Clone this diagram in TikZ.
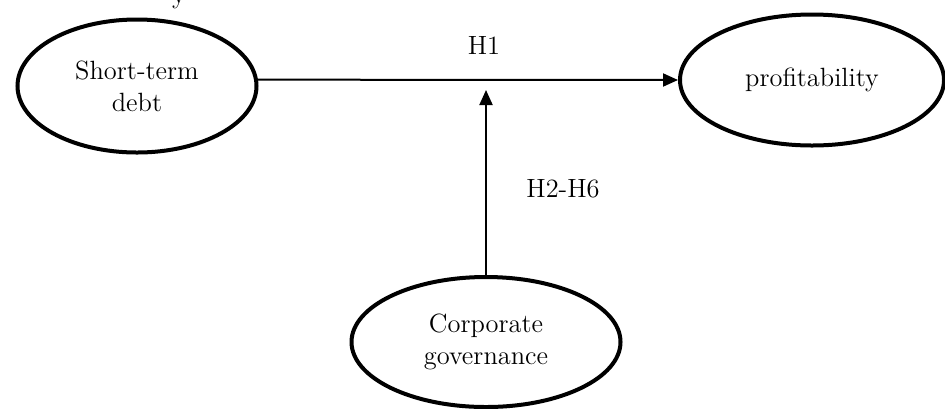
\documentclass[tikz,border=0pt]{standalone}
\usepackage{tikz}
\usetikzlibrary{shapes,arrows.meta,positioning}

\begin{document}
\begin{tikzpicture}[x=0.5pt,y=-0.5pt,
  var/.style={ellipse,draw,line width=2pt,inner sep=0pt,align=center,
    font=\fontsize{13.2}{16}\selectfont},
  hyp/.style={font=\fontsize{13.2}{15}\selectfont},
  link/.style={line width=1pt,-{Triangle[length=7.5pt,width=6.5pt]}}]
\useasboundingbox (0,0) rectangle (945,408);

\node[hyp,anchor=base] (cut) at (179,3) {y};

\node[var,minimum width=119.5pt,minimum height=66.5pt] (debt) at (137,86) {Short-term\\debt};
\node[var,minimum width=132pt,minimum height=65.5pt] (prof) at (812,80) {profitability};
\node[var,minimum width=134.5pt,minimum height=65pt] (gov) at (486,342) {Corporate\\governance};

\coordinate (join) at (486,90);

\draw[link] (debt.3) -- (prof.west);
\draw[link] (gov.north) -- (join);

\node[hyp] (h1) at (484,45) {H1};
\node[hyp] (h26) at (563,189) {H2-H6};

\end{tikzpicture}
\end{document}
